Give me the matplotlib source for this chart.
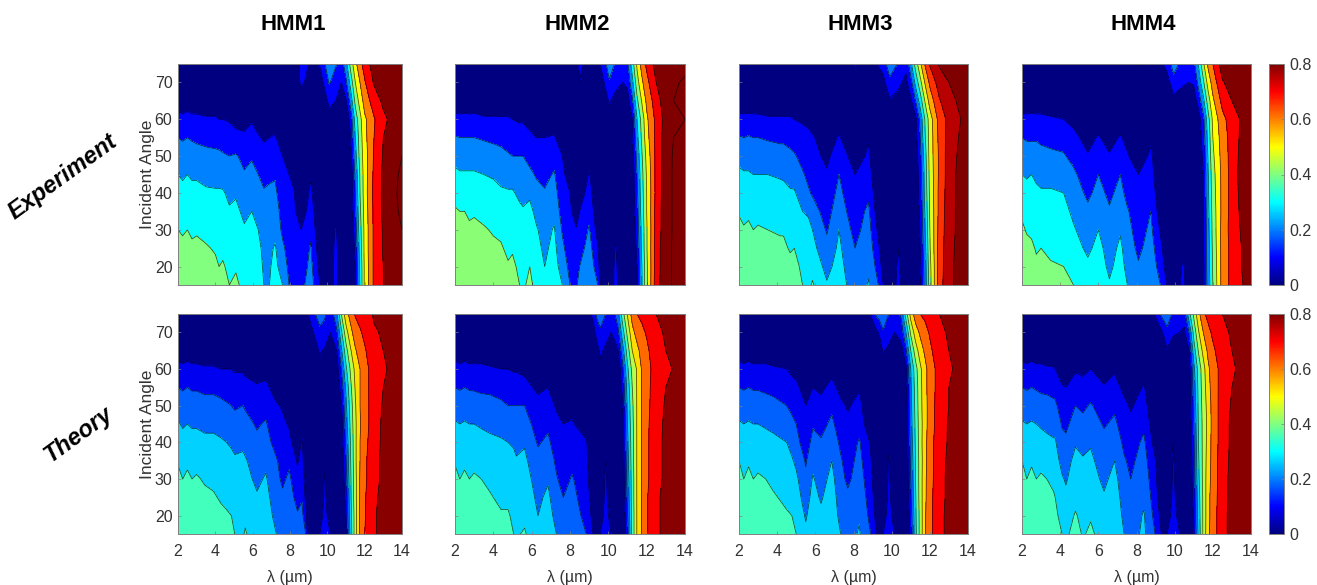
import numpy as np
import matplotlib
matplotlib.use("Agg")
import matplotlib.pyplot as plt
from matplotlib.colors import LinearSegmentedColormap, Normalize
from matplotlib.cm import ScalarMappable

plt.rcParams["font.family"] = ["Liberation Sans", "DejaVu Sans"]

# Each row of a Z table is one wavelength, read at these angles (top of the panel first); reflectance in %
ANGLES = [75, 70, 65, 60, 55, 50, 45, 40, 35, 30, 25, 20, 15]
COLUMN_TITLES = ["HMM1", "HMM2", "HMM3", "HMM4"]
ROW_TITLES = ["Experiment", "Theory"]
X_TICKS = [2, 4, 6, 8, 10, 12, 14]
Y_TICKS = [20, 30, 40, 50, 60, 70]
CB_TICKS = [0, 0.2, 0.4, 0.6, 0.8]
LEVELS = [0, 10, 20, 30, 40, 50, 60, 70, 80, 90, 1000]

WL_E1 = [2, 2.25, 2.5, 2.75, 3, 3.5, 4, 4.2, 4.4, 4.75, 5.1, 5.55, 5.95, 6.3, 6.6, 6.9, 7.2, 7.6, 7.95, 8.2, 8.6, 9.1, 9.6, 10.1, 10.45, 10.75, 11, 11.25, 11.5, 11.75, 12, 12.5, 13, 14]
Z_E1 = [
[0,2,6,13,20,25,30,33,37,40,43,45,47],
[0,2,5,12,19,24,29,32,35,39,42,44,46],
[0,2,6,13,20,25,30,33,37,40,43,45,47],
[0,2,5,12,19,24,29,32,35,38,42,44,46],
[0,2,5,12,18,24,29,32,35,39,42,44,46],
[0,2,5,11,17,23,28,31,34,37,41,43,45],
[0,2,5,11,17,22,27,31,34,37,39,42,44],
[0,2,4,10,16,22,27,31,33,35,37,40,42],
[0,2,4,10,16,21,26,31,33,35,38,41,43],
[0,1,3,9,15,20,24,28,31,33,35,38,40],
[0,1,3,7,13,21,25,29,32,34,36,39,42],
[0,1,3,6,12,17,21,25,28,31,33,35,37],
[0,1,3,9,14,19,23,26,30,32,34,35,37],
[0,1,2,6,11,16,20,23,27,30,32,33,34],
[0,0,1,4,9,13,17,21,24,26,28,29,30],
[0,0,1,4,10,14,18,22,25,27,28,29,30],
[0,0,1,5,11,15,19,22,25,27,31,33,35],
[0,0,0,2,5,10,12,14,16,18,22,25,30],
[0,0,0,1,3,6,10,12,14,15,16,18,20],
[0,0,0,0,1,3,7,11,12,13,14,15,16],
[14,12,3,0,0,0,0,1,4,10,12,14,17],
[9,6,0,0,0,1,9,12,15,18,21,23,25],
[11,4,1,0,0,0,0,0,1,2,4,7,10],
[27,21,12,7,3,1,0,0,0,0,0,0,0],
[21,15,10,5,2,0,0,0,5,12,14,15,15],
[15,10,5,2,1,0,0,0,0,0,0,0,0],
[26,18,9,1,1,1,0,0,0,0,0,0,0],
[44,34,24,14,10,7,3,3,2,2,1,1,1],
[57,50,43,34,30,26,22,20,18,15,12,10,8],
[67,60,54,47,45,44,41,40,38,36,34,32,31],
[74,69,64,58,57,55,55,55,54,53,53,52,52],
[85,81,75,69,70,71,72,73,72,72,72,72,72],
[88,85,82,78,80,81,82,82,82,81,81,80,80],
[88,88,88,87,88,90,92,93,92,90,88,87,86],
]

WL_E2 = [2, 2.25, 2.5, 2.75, 3, 3.5, 4, 4.4, 4.77, 5, 5.37, 5.55, 5.9, 6.25, 6.68, 7.17, 7.6, 8, 8.33, 8.5, 9, 9.45, 9.6, 10.05, 10.37, 10.75, 11, 11.25, 11.5, 11.75, 12, 12.5, 13, 13.4, 14]
Z_E2 = [
[0,2,6,12,21,27,32,37,41,44,47,49,50],
[0,2,5,12,20,26,31,36,40,43,46,48,50],
[0,2,6,12,20,26,31,35,40,43,46,48,50],
[0,2,5,12,20,26,31,34,38,42,45,47,49],
[0,2,6,12,20,26,31,35,39,42,45,47,49],
[0,2,5,11,19,25,30,34,37,41,44,46,48],
[0,2,5,11,18,24,29,33,36,39,42,45,47],
[0,2,4,11,17,23,28,31,35,38,41,43,45],
[0,1,4,11,16,21,26,31,33,36,38,41,43],
[0,1,3,10,15,20,26,31,34,37,39,42,44],
[0,1,3,9,14,20,24,28,32,34,36,38,40],
[0,1,3,9,14,20,24,27,31,33,35,36,38],
[0,1,3,7,12,17,22,28,33,35,37,40,43],
[0,1,2,5,10,15,19,23,27,31,33,35,36],
[0,0,1,4,10,14,17,21,24,26,28,30,32],
[0,0,1,5,11,16,21,24,27,31,33,34,35],
[0,0,0,2,5,10,12,14,16,19,22,26,30],
[0,0,0,0,1,3,6,10,12,14,15,17,20],
[2,0,0,0,0,0,0,1,4,11,13,16,19],
[13,10,4,1,0,0,0,5,10,13,16,20,23],
[3,0,0,0,0,4,11,14,17,21,24,26,28],
[8,2,0,0,0,0,0,1,3,6,11,15,20],
[11,4,1,0,0,0,0,0,0,1,2,4,7],
[25,19,11,7,3,1,0,0,0,0,0,0,0],
[19,13,7,3,1,0,0,0,1,5,11,13,14],
[14,10,5,2,1,0,0,0,0,0,0,0,0],
[18,12,6,1,1,0,0,0,0,0,0,0,0],
[35,27,18,10,8,6,4,4,3,3,2,2,2],
[52,46,38,30,27,23,20,18,16,14,12,10,9],
[64,58,51,44,42,39,37,36,35,33,32,30,29],
[72,67,62,58,56,53,51,50,50,49,49,48,48],
[84,80,76,73,73,73,73,73,74,74,75,75,76],
[88,87,85,84,85,85,86,86,86,86,87,87,87],
[88,89,90,89,90,91,91,91,91,91,91,91,91],
[88,91,91,90,91,92,93,93,93,93,92,92,92],
]

WL_E3 = [2, 2.25, 2.5, 2.75, 3, 3.5, 4.16, 4.33, 4.68, 4.9, 5.33, 5.64, 5.85, 6.6, 7.24, 7.64, 8.08, 8.78, 9.3, 9.56, 9.9, 10.35, 10.75, 11, 11.25, 11.5, 11.75, 12, 12.5, 13, 13.5, 14]
Z_E3 = [
[0,2,6,12,21,27,32,36,39,43,46,48,50],
[0,2,5,12,20,26,31,35,37,41,44,46,48],
[0,2,6,12,21,26,31,34,38,42,45,47,49],
[0,2,5,12,20,25,30,33,36,40,43,45,47],
[0,2,5,12,20,25,30,34,37,41,44,46,48],
[0,2,5,11,19,25,30,34,36,40,43,45,47],
[0,2,5,11,18,24,29,33,36,39,42,45,47],
[0,2,4,11,18,24,29,32,35,39,42,45,47],
[0,1,4,11,17,22,27,31,34,36,39,43,45],
[0,1,4,10,16,21,26,31,34,37,40,43,45],
[0,1,3,9,13,17,21,25,30,33,36,38,40],
[0,1,3,8,12,15,18,21,29,32,34,36,38],
[0,1,2,6,11,13,16,19,24,30,33,37,41],
[0,0,1,2,5,8,11,13,16,19,23,27,31],
[0,0,1,5,11,15,20,23,26,30,32,34,36],
[0,0,0,2,6,11,14,17,20,23,26,28,30],
[12,5,1,0,1,4,10,13,15,17,20,21,22],
[2,0,0,2,9,12,14,18,22,24,26,28,31],
[11,3,0,0,0,0,1,2,4,8,12,16,20],
[14,7,1,0,0,0,0,0,0,1,3,6,10],
[27,17,9,4,2,0,0,0,0,0,0,0,0],
[19,12,7,3,1,0,0,0,1,4,10,12,14],
[12,8,4,2,0,0,0,0,0,0,0,0,0],
[27,16,8,1,1,0,0,0,0,0,0,0,0],
[44,33,20,7,6,4,3,3,3,2,2,2,2],
[58,47,35,23,20,17,15,14,12,11,10,8,7],
[71,61,51,41,39,36,34,33,31,29,27,25,24],
[81,72,64,55,54,54,53,52,51,50,49,47,46],
[91,85,79,74,73,72,72,73,73,74,75,75,76],
[94,90,87,83,84,85,85,85,86,86,86,87,87],
[95,93,91,89,90,91,92,92,92,92,93,93,93],
[95,94,93,93,94,94,95,95,95,95,95,96,96],
]

WL_E4 = [2, 2.25, 2.5, 2.75, 3, 3.5, 4.18, 4.7, 5.45, 6, 6.58, 7.15, 7.52, 8.1, 8.75, 9.25, 9.58, 9.95, 10.45, 10.75, 11, 11.25, 11.5, 11.75, 12, 12.5, 13, 13.5, 14]
Z_E4 = [
[0,2,6,12,20,25,30,34,38,42,44,46,48],
[0,2,5,12,19,24,29,33,36,39,43,45,47],
[0,2,6,12,19,24,30,33,36,38,42,44,46],
[0,2,5,12,19,24,28,32,34,37,39,42,44],
[0,2,5,12,18,23,27,31,34,37,40,43,45],
[0,2,5,11,17,22,27,31,33,36,38,41,43],
[0,2,4,10,16,21,26,30,33,35,37,40,42],
[0,1,3,7,13,17,22,25,28,31,34,37,40],
[0,0,1,3,6,11,14,18,22,25,28,32,35],
[0,0,1,5,11,15,20,23,27,30,33,35,37],
[0,0,0,2,6,11,14,18,21,24,26,28,31],
[0,0,1,4,11,15,20,23,26,29,32,34,36],
[0,0,0,3,7,11,14,17,21,23,25,27,30],
[11,1,0,0,1,4,10,12,14,16,18,21,23],
[1,0,0,1,8,12,14,17,20,22,24,26,28],
[8,2,0,0,0,0,1,2,5,9,13,16,20],
[13,5,1,0,0,0,0,0,0,1,3,6,10],
[25,16,7,3,1,0,0,0,0,0,0,0,0],
[15,11,6,2,1,0,0,0,0,1,6,12,14],
[14,10,5,2,1,0,0,0,0,0,0,0,0],
[17,11,5,1,1,0,0,0,0,0,0,0,0],
[31,23,14,5,4,3,2,2,2,2,1,1,1],
[48,38,27,17,14,12,10,10,9,9,9,8,8],
[62,54,45,36,33,31,29,28,27,26,25,25,24],
[70,64,58,52,50,48,46,45,44,43,42,41,40],
[85,79,73,67,65,64,63,63,63,64,64,64,64],
[88,84,80,75,74,74,74,74,74,74,73,73,73],
[89,87,84,81,82,83,84,83,82,81,80,80,79],
[89,88,87,85,86,87,88,88,87,87,86,86,85],
]

WL_T1 = [2, 2.25, 2.5, 2.75, 3, 3.43, 3.9, 4.3, 4.6, 4.86, 5.04, 5.48, 5.6, 6.23, 6.7, 7.27, 7.6, 7.95, 8.4, 8.64, 8.84, 8.96, 9.6, 9.86, 10.16, 10.5, 10.75, 11, 11.25, 11.5, 11.75, 12, 12.5, 13, 14]
Z_T1 = [
[0,2,6,13,20,25,31,35,39,43,45,47,48],
[0,2,5,12,19,24,29,33,36,40,43,45,47],
[0,2,6,13,20,25,30,34,38,42,44,46,48],
[0,2,5,12,19,24,29,33,36,40,43,45,47],
[0,2,5,12,19,24,29,33,37,41,43,45,47],
[0,2,5,11,18,23,28,32,35,39,42,44,46],
[0,2,5,11,18,23,28,32,35,38,41,43,45],
[0,1,4,10,17,22,27,31,33,36,39,42,44],
[0,1,4,10,16,21,26,30,33,35,38,41,43],
[0,1,4,10,15,20,24,29,32,35,38,40,42],
[0,1,3,9,14,19,23,28,31,34,36,38,40],
[0,1,3,9,14,20,24,28,32,34,36,38,39],
[0,1,3,8,13,19,23,27,31,33,36,38,41],
[0,1,2,6,11,15,19,22,25,28,31,33,34],
[0,0,1,7,12,17,21,24,28,31,33,35,37],
[0,0,0,3,6,11,13,16,21,23,25,27,30],
[0,0,0,2,4,9,12,14,16,18,22,25,27],
[0,0,0,1,3,6,9,13,18,22,24,25,26],
[11,1,0,0,0,0,0,4,9,13,17,21,23],
[4,0,0,0,0,1,7,11,14,16,19,23,26],
[6,1,0,0,0,0,1,2,3,5,8,13,20],
[10,4,1,0,0,0,0,0,0,1,2,4,7],
[26,17,11,6,2,1,0,0,0,1,3,6,10],
[22,15,9,5,2,0,0,1,8,11,12,13,14],
[13,10,5,2,1,0,0,0,0,1,3,6,10],
[28,18,10,5,3,1,0,0,0,0,0,0,0],
[50,38,28,20,14,9,5,4,3,2,1,1,0],
[66,56,46,38,32,28,25,22,19,16,13,10,8],
[74,67,59,52,48,45,43,41,40,39,38,36,35],
[81,75,69,63,61,59,58,58,58,57,57,56,56],
[83,79,74,70,70,70,69,70,70,71,71,72,72],
[85,82,79,77,77,76,76,77,78,78,79,79,80],
[91,89,86,84,84,85,85,86,87,87,88,89,89],
[92,91,90,89,90,91,92,92,92,92,93,93,93],
[93,93,93,94,94,95,95,95,95,95,95,95,95],
]

WL_T2 = [2, 2.25, 2.5, 2.75, 3, 3.37, 3.8, 4.4, 4.77, 5.06, 5.2, 5.63, 6.33, 6.85, 7.29, 7.65, 8.1, 8.85, 9.2, 9.4, 9.58, 9.86, 10.15, 10.5, 10.75, 11, 11.25, 11.5, 11.75, 12, 12.5, 13, 14]
Z_T2 = [
[0,2,6,13,20,26,31,36,39,43,45,47,49],
[0,2,5,12,19,25,30,34,37,40,43,45,47],
[0,2,6,13,20,25,31,35,38,42,44,46,48],
[0,2,5,12,19,25,30,34,37,40,43,45,47],
[0,2,5,12,19,24,30,34,38,41,43,45,47],
[0,2,5,12,18,24,29,33,37,40,43,45,47],
[0,2,5,11,18,23,28,32,35,38,41,43,45],
[0,1,4,10,16,22,27,31,33,36,38,41,43],
[0,1,4,10,15,20,26,30,33,35,38,41,43],
[0,1,3,9,15,20,24,29,32,34,36,38,40],
[0,1,3,9,15,20,24,27,31,33,35,37,39],
[0,1,3,8,13,20,24,29,32,34,36,38,41],
[0,0,1,3,8,13,16,19,23,26,28,30,33],
[0,0,1,3,10,14,18,22,26,29,32,34,36],
[0,0,0,2,5,9,12,15,18,21,24,27,30],
[0,0,0,1,2,5,10,12,14,16,20,22,24],
[0,0,0,1,2,7,11,14,17,21,23,25,27],
[3,0,0,0,0,1,5,11,12,13,15,17,20],
[13,5,1,0,0,0,0,1,2,3,5,7,10],
[22,14,6,3,1,0,0,0,0,0,0,1,3],
[26,18,12,7,3,1,0,0,0,0,2,5,10],
[20,14,8,4,2,0,0,3,10,12,13,14,15],
[13,10,5,2,1,0,0,0,0,1,3,6,10],
[26,17,9,2,1,0,0,0,0,0,0,0,0],
[46,36,26,18,13,9,6,5,4,3,2,1,0],
[61,53,45,38,34,32,30,28,26,24,22,19,16],
[74,67,60,53,50,48,47,46,46,45,45,44,44],
[80,74,67,61,61,61,61,61,61,61,61,61,61],
[82,78,74,71,71,71,71,71,71,71,71,71,71],
[84,81,78,76,77,77,78,78,78,78,79,79,79],
[90,88,86,85,85,86,86,87,87,87,88,88,88],
[92,91,90,88,90,91,92,92,92,92,93,93,93],
[93,93,93,94,94,95,95,95,95,95,95,95,95],
]

WL_T3 = [2, 2.25, 2.5, 2.75, 3, 3.4, 3.8, 4.5, 4.77, 5, 5.5, 5.87, 6.3, 6.86, 7.33, 7.7, 8.3, 8.9, 9.2, 9.35, 9.55, 9.85, 10.15, 10.5, 10.75, 11, 11.25, 11.5, 11.75, 12, 12.5, 13, 14]
Z_T3 = [
[0,2,6,13,20,26,31,36,40,43,45,47,49],
[0,2,5,12,19,25,30,33,37,40,43,45,47],
[0,2,6,13,20,25,31,35,39,42,44,46,48],
[0,2,5,12,19,25,30,33,37,40,43,45,47],
[0,2,5,12,19,25,30,34,38,41,43,45,47],
[0,2,5,12,18,24,29,33,37,40,42,44,46],
[0,2,5,11,17,23,28,32,35,38,41,43,45],
[0,1,4,10,16,20,25,30,33,36,38,41,43],
[0,1,3,8,13,18,22,27,31,34,37,40,42],
[0,1,2,7,12,16,20,23,28,32,34,37,40],
[0,0,1,3,6,10,13,15,19,22,26,29,32],
[0,0,1,3,10,14,19,23,27,31,33,35,36],
[0,0,1,3,8,13,17,21,24,26,29,32,34],
[0,0,2,7,13,18,22,26,30,33,35,36,37],
[0,0,1,3,7,12,15,18,21,23,25,27,30],
[0,0,0,2,5,9,12,14,16,18,22,25,26],
[0,0,0,3,9,13,16,21,23,25,27,29,31],
[11,0,0,0,0,1,2,9,11,13,15,17,20],
[22,8,2,0,0,0,0,0,1,2,4,7,10],
[24,11,4,1,0,0,0,0,0,0,0,1,3],
[27,19,11,6,3,1,0,0,0,0,1,5,10],
[20,14,8,4,2,0,0,9,11,12,13,14,15],
[14,10,5,2,1,0,0,0,0,1,3,6,10],
[22,14,6,1,0,0,0,0,0,0,0,0,0],
[45,30,18,8,5,3,2,1,1,1,0,0,0],
[64,52,40,30,28,27,26,24,22,20,18,15,13],
[75,65,55,46,44,43,42,41,40,40,39,38,37],
[80,72,65,58,57,57,56,56,55,55,55,54,54],
[82,77,72,67,67,66,66,67,67,68,68,69,69],
[84,81,78,75,75,75,75,76,76,76,77,77,77],
[90,88,86,84,84,85,85,86,86,87,87,88,88],
[92,91,90,89,90,90,91,91,92,92,92,92,92],
[93,93,93,94,94,95,95,95,95,95,95,95,95],
]

WL_T4 = [2, 2.25, 2.5, 2.75, 3, 3.3, 3.65, 3.74, 4.1, 4.3, 4.8, 5.19, 5.6, 6.3, 6.85, 7.35, 7.7, 8.38, 8.97, 9.3, 9.45, 9.6, 9.93, 10.27, 10.5, 10.75, 11, 11.25, 11.5, 11.75, 12, 12.5, 13, 14]
Z_T4 = [
[0,2,6,13,20,26,31,36,40,43,45,47,49],
[0,2,5,12,19,25,30,33,37,40,43,45,47],
[0,2,6,13,20,25,31,35,39,42,44,46,48],
[0,2,5,12,19,25,30,33,37,40,43,45,47],
[0,2,5,12,18,24,29,33,38,41,43,45,47],
[0,2,5,11,18,23,28,32,36,40,42,44,46],
[0,2,4,11,17,22,27,31,35,38,41,43,45],
[0,2,4,10,16,22,27,31,34,37,40,42,44],
[0,1,2,5,11,15,19,23,27,31,34,37,40],
[0,0,1,3,10,14,18,22,26,29,32,35,38],
[0,1,3,9,14,20,24,29,33,35,37,41,44],
[0,1,3,8,13,18,23,27,31,33,35,37,39],
[0,1,3,10,15,21,25,29,32,34,36,39,42],
[0,0,1,5,11,15,19,23,25,28,31,33,35],
[0,0,2,9,13,18,22,26,30,33,35,36,37],
[0,0,1,3,8,12,15,18,21,24,26,28,30],
[0,0,0,2,4,9,12,15,18,20,22,24,26],
[0,0,1,5,11,14,18,22,24,26,28,31,32],
[11,2,0,0,0,1,3,6,11,13,15,17,20],
[22,8,2,0,0,0,0,0,0,1,3,7,10],
[25,12,5,2,1,0,0,0,0,0,0,1,3],
[27,17,9,5,2,1,0,0,0,0,1,5,10],
[18,11,6,3,1,0,0,10,11,12,13,14,15],
[12,10,4,2,1,0,0,0,0,1,3,6,10],
[15,8,3,0,0,0,0,0,0,0,0,0,0],
[36,20,10,5,4,3,2,1,1,1,0,0,0],
[52,43,35,27,24,22,20,18,16,15,13,11,9],
[67,59,51,44,43,42,41,40,39,38,36,35,33],
[78,70,63,56,55,54,53,53,53,53,52,52,52],
[83,77,72,68,66,64,63,64,65,66,67,67,68],
[85,82,78,75,75,74,74,74,74,74,75,75,75],
[90,88,86,84,84,85,85,85,86,86,86,87,87],
[92,91,90,89,90,91,92,92,92,93,93,93,93],
[93,93,93,94,94,95,95,95,95,95,95,95,95],
]

# Fraction of the colour scale taken by one contour step in each panel
COLOR_STEP = [[0.125, 0.127, 0.118, 0.125], [0.11, 0.11, 0.11, 0.11]]
PANELS = [[(WL_E1, Z_E1), (WL_E2, Z_E2), (WL_E3, Z_E3), (WL_E4, Z_E4)],
          [(WL_T1, Z_T1), (WL_T2, Z_T2), (WL_T3, Z_T3), (WL_T4, Z_T4)]]

# Layout in pixels
W, H = 1317, 585
COL_X = [(178, 402), (455, 685), (739, 968), (1022, 1251)]
ROW_Y = [(64, 285), (314, 534)]
CB_X = (1269, 1284)
TITLE_X = [293, 577, 860, 1143]
TITLE_Y = 25
ROW_LABEL_XY = [(63, 177), (78, 435)]

jet = LinearSegmentedColormap.from_list("matlab_jet", [
    (0, (0, 0, 0.5)), (0.125, (0, 0, 1)), (0.375, (0, 1, 1)), (0.625, (1, 1, 0)),
    (0.875, (1, 0, 0)), (1, (0.5, 0, 0))], N=256)

TEXT = "#333333"
EDGE = "#808080"


def box(x0, x1, y0, y1):
    return [x0 / W, 1 - y1 / H, (x1 - x0) / W, (y1 - y0) / H]


def style(ax):
    for s in ax.spines.values():
        s.set_color(EDGE)
        s.set_linewidth(0.7)


fig = plt.figure(figsize=(W / 100, H / 100), dpi=100)

for r, row in enumerate(PANELS):
    y0, y1 = ROW_Y[r]
    for c, (wl, z) in enumerate(row):
        ax = fig.add_axes(box(*COL_X[c], y0, y1))
        Z = np.array(z, dtype=float).T[::-1]
        A = np.array(ANGLES)[::-1]
        colors = [jet(min(k * COLOR_STEP[r][c], 1.0)) for k in range(len(LEVELS) - 1)]
        ax.contourf(wl, A, Z, levels=LEVELS, colors=colors)
        ax.contour(wl, A, Z, levels=LEVELS[1:-1], colors="black", linewidths=0.55, alpha=0.7)
        ax.set_xlim(2, 14)
        ax.set_ylim(15, 75)
        ax.set_xticks(X_TICKS)
        ax.set_yticks(Y_TICKS)
        ax.tick_params(direction="in", length=2, width=0.5, color=EDGE, labelcolor=TEXT,
                       labelsize=11.5, pad=4, top=False, right=False)
        ax.tick_params(axis="x", pad=7)
        style(ax)
        if r == 1:
            ax.set_xlabel("λ (µm)", fontsize=11.5, color=TEXT, labelpad=8)
        else:
            ax.set_xticklabels([])
        if c == 0:
            ax.set_ylabel("Incident Angle", fontsize=12.5, color=TEXT, labelpad=0)
        else:
            ax.set_yticklabels([])
        if r == 0:
            fig.text(TITLE_X[c] / W, 1 - TITLE_Y / H, COLUMN_TITLES[c], fontsize=16, fontweight="bold",
                     ha="center", va="center", color="black")
    cax = fig.add_axes(box(*CB_X, y0, y1))
    cb = fig.colorbar(ScalarMappable(Normalize(0, 0.8), jet), cax=cax, ticks=CB_TICKS)
    cb.ax.set_yticklabels(["0", "0.2", "0.4", "0.6", "0.8"])
    cb.ax.tick_params(length=2, width=0.5, direction="in", color=EDGE, labelcolor=TEXT, labelsize=11.5, pad=4)
    cb.outline.set_edgecolor(EDGE)
    cb.outline.set_linewidth(0.7)
    lx, ly = ROW_LABEL_XY[r]
    fig.text(lx / W, 1 - ly / H, ROW_TITLES[r], fontsize=17, fontweight="bold", fontstyle="italic",
             rotation=36, ha="center", va="center", color="black", rotation_mode="anchor")

fig.savefig("out.png", dpi=100)
